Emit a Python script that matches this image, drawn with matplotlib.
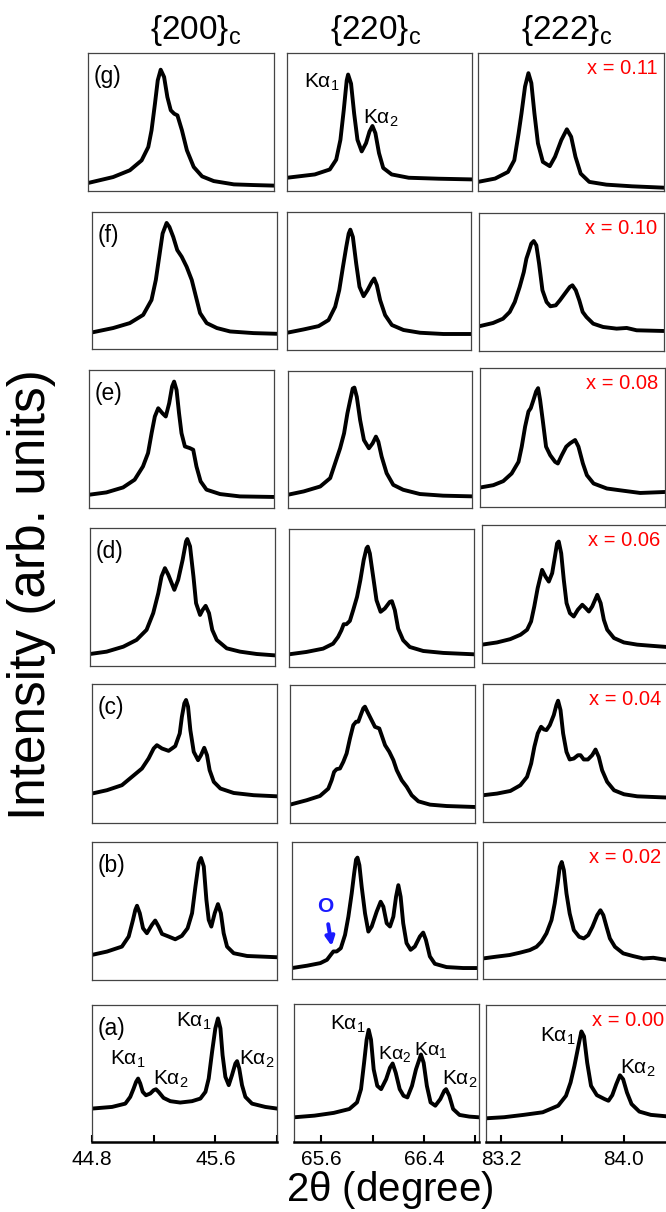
import matplotlib
matplotlib.use('Agg')
import matplotlib.pyplot as plt

plt.rcParams['font.family'] = ['Liberation Sans', 'DejaVu Sans']
plt.rcParams['mathtext.fontset'] = 'custom'
plt.rcParams['mathtext.rm'] = 'Liberation Sans'
plt.rcParams['mathtext.it'] = 'Liberation Sans:italic'
plt.rcParams['mathtext.default'] = 'regular'

W, H = 666, 1212

# 2theta window of each column (degree)
col_range = [(44.8, 46.0), (65.386, 66.83), (83.10, 84.31)]
col_titles = [r'$\{200\}_c$', r'$\{220\}_c$', r'$\{222\}_c$']
row_tags = ['(g)', '(f)', '(e)', '(d)', '(c)', '(b)', '(a)']
x_labels = ['x = 0.11', 'x = 0.10', 'x = 0.08', 'x = 0.06', 'x = 0.04', 'x = 0.02', 'x = 0.00']

# ---- {200} column ----
g200_tt = [44.8, 44.962, 45.07, 45.146, 45.189, 45.21, 45.232, 45.25, 45.269, 45.291, 45.312, 45.334,
           45.356, 45.377, 45.406, 45.438, 45.482, 45.536, 45.611, 45.741, 45.87, 46.0]
g200_I = [0.058, 0.101, 0.150, 0.222, 0.319, 0.440, 0.633, 0.802, 0.879, 0.826, 0.681, 0.585,
          0.560, 0.548, 0.440, 0.295, 0.174, 0.106, 0.072, 0.048, 0.043, 0.039]

f200_tt = [44.8, 44.937, 45.045, 45.132, 45.186, 45.214, 45.236, 45.258, 45.284, 45.302, 45.327, 45.353,
           45.382, 45.414, 45.447, 45.474, 45.501, 45.544, 45.61, 45.696, 45.848, 46.0]
f200_I = [0.121, 0.153, 0.189, 0.249, 0.358, 0.504, 0.673, 0.843, 0.920, 0.891, 0.818, 0.722,
          0.673, 0.600, 0.504, 0.383, 0.262, 0.189, 0.153, 0.128, 0.116, 0.111]

e200_tt = [44.8, 44.913, 45.021, 45.096, 45.15, 45.183, 45.206, 45.227, 45.249, 45.276, 45.298, 45.32,
           45.339, 45.352, 45.368, 45.384, 45.4, 45.422, 45.454, 45.476, 45.497, 45.524, 45.562, 45.65,
           45.779, 46.0]
e200_I = [0.096, 0.113, 0.149, 0.205, 0.301, 0.398, 0.542, 0.663, 0.723, 0.687, 0.663, 0.759,
          0.880, 0.916, 0.855, 0.687, 0.542, 0.446, 0.434, 0.422, 0.301, 0.193, 0.133, 0.101,
          0.084, 0.080]

d200_tt = [44.8, 44.908, 45.016, 45.102, 45.167, 45.21, 45.243, 45.264, 45.286, 45.308, 45.347, 45.372,
           45.401, 45.423, 45.431, 45.449, 45.471, 45.488, 45.514, 45.531, 45.55, 45.572, 45.593, 45.622,
           45.687, 45.773, 45.881, 46.0]
d200_I = [0.087, 0.104, 0.140, 0.189, 0.262, 0.383, 0.528, 0.649, 0.709, 0.661, 0.552, 0.625,
          0.770, 0.903, 0.920, 0.867, 0.649, 0.455, 0.370, 0.407, 0.436, 0.383, 0.262, 0.189,
          0.128, 0.104, 0.087, 0.077]

c200_tt = [44.8, 44.897, 44.994, 45.059, 45.124, 45.167, 45.2, 45.221, 45.254, 45.297, 45.34, 45.369,
           45.383, 45.399, 45.41, 45.423, 45.438, 45.46, 45.488, 45.507, 45.528, 45.546, 45.563, 45.59,
           45.633, 45.719, 45.849, 46.0]
c200_I = [0.212, 0.236, 0.272, 0.332, 0.392, 0.464, 0.536, 0.560, 0.536, 0.519, 0.553, 0.644,
          0.764, 0.861, 0.885, 0.837, 0.668, 0.512, 0.452, 0.488, 0.541, 0.488, 0.380, 0.296,
          0.248, 0.216, 0.200, 0.192]

b200_tt = [44.8, 44.897, 44.994, 45.038, 45.066, 45.081, 45.092, 45.11, 45.131, 45.156, 45.189, 45.21,
           45.232, 45.254, 45.297, 45.34, 45.383, 45.42, 45.449, 45.471, 45.492, 45.507, 45.525, 45.542,
           45.557, 45.574, 45.596, 45.617, 45.636, 45.654, 45.676, 45.719, 45.806, 46.0]
b200_I = [0.182, 0.206, 0.242, 0.315, 0.436, 0.508, 0.538, 0.484, 0.375, 0.339, 0.400, 0.431,
          0.387, 0.334, 0.315, 0.295, 0.320, 0.375, 0.484, 0.678, 0.847, 0.884, 0.823, 0.581,
          0.436, 0.387, 0.484, 0.550, 0.484, 0.339, 0.242, 0.194, 0.174, 0.165]

a200_tt = [44.8, 44.93, 45.016, 45.048, 45.07, 45.086, 45.099, 45.113, 45.129, 45.15, 45.178, 45.2,
           45.215, 45.232, 45.264, 45.308, 45.372, 45.449, 45.503, 45.536, 45.557, 45.579, 45.6, 45.617,
           45.633, 45.647, 45.665, 45.687, 45.708, 45.73, 45.741, 45.755, 45.773, 45.795, 45.838,
           45.924, 46.0]
a200_I = [0.244, 0.256, 0.280, 0.329, 0.390, 0.439, 0.463, 0.427, 0.366, 0.341, 0.354, 0.378,
          0.385, 0.366, 0.322, 0.298, 0.288, 0.298, 0.317, 0.366, 0.463, 0.659, 0.829, 0.902,
          0.829, 0.634, 0.476, 0.415, 0.488, 0.573, 0.590, 0.537, 0.415, 0.329, 0.280,
          0.256, 0.244]

# ---- {220} column ----
g220_tt = [65.386, 65.603, 65.72, 65.77, 65.803, 65.829, 65.852, 65.863, 65.886, 65.91, 65.936, 65.969,
           66.003, 66.03, 66.053, 66.076, 66.104, 66.137, 66.203, 66.336, 66.57, 66.83]
g220_I = [0.096, 0.120, 0.156, 0.227, 0.371, 0.586, 0.801, 0.844, 0.778, 0.562, 0.371, 0.287,
          0.347, 0.431, 0.471, 0.419, 0.275, 0.167, 0.120, 0.096, 0.089, 0.084]

f220_tt = [65.386, 65.516, 65.634, 65.712, 65.764, 65.796, 65.825, 65.851, 65.87, 65.883, 65.903, 65.929,
           65.955, 65.987, 66.018, 66.052, 66.07, 66.091, 66.117, 66.156, 66.209, 66.3, 66.43, 66.613,
           66.83]
f220_I = [0.125, 0.149, 0.173, 0.217, 0.313, 0.434, 0.602, 0.747, 0.843, 0.872, 0.819, 0.627,
          0.458, 0.390, 0.434, 0.494, 0.518, 0.470, 0.361, 0.253, 0.181, 0.145, 0.125, 0.116,
          0.116]

e220_tt = [65.386, 65.509, 65.639, 65.717, 65.756, 65.795, 65.826, 65.852, 65.874, 65.894, 65.907, 65.926,
           65.952, 65.982, 66.021, 66.05, 66.076, 66.095, 66.121, 66.16, 66.212, 66.29, 66.421, 66.603,
           66.83]
e220_I = [0.097, 0.121, 0.157, 0.218, 0.327, 0.436, 0.545, 0.690, 0.787, 0.872, 0.879, 0.811,
          0.642, 0.496, 0.436, 0.472, 0.521, 0.484, 0.375, 0.254, 0.169, 0.133, 0.102, 0.090,
          0.085]

d220_tt = [65.386, 65.522, 65.652, 65.73, 65.769, 65.795, 65.813, 65.834, 65.861, 65.887, 65.917, 65.943,
           65.969, 65.991, 66.001, 66.017, 66.043, 66.069, 66.101, 66.134, 66.173, 66.189, 66.212, 66.238,
           66.277, 66.329, 66.434, 66.59, 66.83]
d220_I = [0.092, 0.109, 0.133, 0.169, 0.218, 0.266, 0.310, 0.310, 0.334, 0.412, 0.508, 0.630,
          0.775, 0.860, 0.872, 0.823, 0.654, 0.484, 0.400, 0.424, 0.472, 0.477, 0.412, 0.278,
          0.194, 0.145, 0.116, 0.102, 0.092]

c220_tt = [65.386, 65.516, 65.62, 65.685, 65.711, 65.73, 65.75, 65.776, 65.802, 65.828, 65.854, 65.88,
           65.902, 65.919, 65.938, 65.958, 65.971, 65.99, 66.016, 66.049, 66.083, 66.101, 66.128, 66.161,
           66.193, 66.219, 66.258, 66.297, 66.336, 66.388, 66.479, 66.609, 66.83]
c220_I = [0.133, 0.165, 0.196, 0.249, 0.310, 0.370, 0.390, 0.395, 0.443, 0.504, 0.613, 0.709,
          0.734, 0.734, 0.782, 0.831, 0.843, 0.806, 0.758, 0.697, 0.685, 0.637, 0.564, 0.516,
          0.455, 0.383, 0.310, 0.262, 0.201, 0.157, 0.133, 0.123, 0.116]

b220_tt = [65.386, 65.503, 65.607, 65.659, 65.689, 65.709, 65.735, 65.767, 65.8, 65.826, 65.852, 65.871,
           65.886, 65.897, 65.912, 65.93, 65.956, 65.982, 66.008, 66.047, 66.078, 66.099, 66.125, 66.151,
           66.177, 66.198, 66.216, 66.234, 66.254, 66.28, 66.312, 66.345, 66.384, 66.41, 66.431, 66.462,
           66.501, 66.592, 66.722, 66.83]
b220_I = [0.080, 0.097, 0.116, 0.140, 0.177, 0.201, 0.201, 0.225, 0.322, 0.455, 0.625, 0.770,
          0.872, 0.886, 0.831, 0.673, 0.479, 0.346, 0.383, 0.492, 0.564, 0.528, 0.407, 0.383,
          0.455, 0.600, 0.685, 0.600, 0.407, 0.262, 0.213, 0.237, 0.310, 0.339, 0.286, 0.165,
          0.111, 0.087, 0.080, 0.080]

a220_tt = [65.386, 65.546, 65.696, 65.818, 65.878, 65.909, 65.933, 65.953, 65.969, 65.987, 66.008, 66.036,
           66.066, 66.105, 66.135, 66.156, 66.18, 66.211, 66.241, 66.271, 66.307, 66.338, 66.377, 66.398,
           66.423, 66.452, 66.489, 66.528, 66.559, 66.573, 66.598, 66.628, 66.678, 66.755, 66.83]
a220_I = [0.179, 0.191, 0.211, 0.239, 0.287, 0.383, 0.574, 0.742, 0.813, 0.742, 0.526, 0.407,
          0.383, 0.455, 0.538, 0.569, 0.502, 0.383, 0.335, 0.323, 0.407, 0.526, 0.634, 0.574,
          0.407, 0.287, 0.263, 0.311, 0.371, 0.383, 0.335, 0.239, 0.196, 0.184, 0.179]

# ---- {222} column ----
g222_tt = [83.10, 83.211, 83.295, 83.336, 83.364, 83.383, 83.406, 83.428, 83.447, 83.467, 83.49, 83.522,
           83.567, 83.601, 83.642, 83.678, 83.706, 83.734, 83.768, 83.824, 83.935, 84.102, 84.31]
g222_I = [0.066, 0.090, 0.138, 0.223, 0.417, 0.563, 0.757, 0.854, 0.782, 0.563, 0.345, 0.211,
          0.180, 0.248, 0.369, 0.447, 0.393, 0.248, 0.126, 0.066, 0.046, 0.034, 0.024]

f222_tt = [83.10, 83.192, 83.257, 83.301, 83.334, 83.366, 83.393, 83.41, 83.428, 83.442, 83.458, 83.475,
           83.493, 83.515, 83.542, 83.567, 83.602, 83.629, 83.661, 83.694, 83.711, 83.733, 83.756, 83.778,
           83.803, 83.847, 83.912, 84.0, 84.066, 84.131, 84.31]
f222_I = [0.179, 0.203, 0.234, 0.283, 0.355, 0.464, 0.572, 0.669, 0.729, 0.778, 0.797, 0.766,
          0.633, 0.440, 0.355, 0.324, 0.331, 0.367, 0.415, 0.464, 0.476, 0.440, 0.367, 0.283,
          0.246, 0.198, 0.174, 0.162, 0.167, 0.150, 0.145]

e222_tt = [83.10, 83.187, 83.252, 83.307, 83.352, 83.373, 83.395, 83.417, 83.432, 83.45, 83.467, 83.48,
           83.493, 83.51, 83.532, 83.559, 83.591, 83.609, 83.635, 83.664, 83.689, 83.722, 83.744, 83.773,
           83.799, 83.843, 83.93, 84.017, 84.148, 84.31]
e222_I = [0.140, 0.157, 0.186, 0.241, 0.325, 0.434, 0.578, 0.687, 0.711, 0.771, 0.831, 0.855,
          0.771, 0.627, 0.434, 0.373, 0.325, 0.313, 0.373, 0.434, 0.458, 0.482, 0.434, 0.313,
          0.229, 0.169, 0.133, 0.120, 0.101, 0.108]

d222_tt = [83.10, 83.198, 83.285, 83.352, 83.395, 83.421, 83.442, 83.464, 83.493, 83.515, 83.537, 83.559,
           83.577, 83.591, 83.602, 83.618, 83.635, 83.653, 83.675, 83.7, 83.727, 83.756, 83.778, 83.799,
           83.821, 83.854, 83.876, 83.897, 83.919, 83.963, 84.028, 84.115, 84.204, 84.31]
d222_I = [0.133, 0.149, 0.173, 0.205, 0.241, 0.301, 0.410, 0.542, 0.675, 0.627, 0.590, 0.651,
          0.771, 0.867, 0.880, 0.795, 0.602, 0.434, 0.361, 0.337, 0.386, 0.422, 0.398, 0.373,
          0.410, 0.494, 0.434, 0.313, 0.241, 0.181, 0.149, 0.133, 0.125, 0.116]

c222_tt = [83.10, 83.192, 83.279, 83.344, 83.388, 83.415, 83.436, 83.458, 83.48, 83.498, 83.515, 83.537,
           83.563, 83.58, 83.591, 83.607, 83.624, 83.646, 83.667, 83.694, 83.721, 83.738, 83.759, 83.786,
           83.814, 83.836, 83.857, 83.879, 83.912, 83.957, 84.022, 84.109, 84.196, 84.31]
c222_I = [0.194, 0.206, 0.225, 0.266, 0.327, 0.424, 0.545, 0.642, 0.690, 0.671, 0.666, 0.702,
          0.775, 0.847, 0.879, 0.811, 0.642, 0.508, 0.453, 0.460, 0.484, 0.484, 0.453, 0.453,
          0.484, 0.525, 0.472, 0.375, 0.291, 0.230, 0.201, 0.186, 0.182, 0.177]

b222_tt = [83.10, 83.187, 83.274, 83.341, 83.406, 83.45, 83.482, 83.515, 83.548, 83.569, 83.588, 83.602,
           83.615, 83.629, 83.646, 83.667, 83.694, 83.729, 83.759, 83.788, 83.816, 83.847, 83.868, 83.887,
           83.908, 83.93, 83.963, 84.017, 84.083, 84.148, 84.214, 84.31]
b222_I = [0.150, 0.163, 0.175, 0.192, 0.211, 0.235, 0.272, 0.333, 0.430, 0.551, 0.697, 0.818,
          0.854, 0.794, 0.624, 0.478, 0.357, 0.308, 0.296, 0.320, 0.381, 0.466, 0.502, 0.466,
          0.381, 0.296, 0.235, 0.187, 0.167, 0.150, 0.155, 0.138]

a222_tt = [83.10, 83.219, 83.346, 83.471, 83.572, 83.623, 83.653, 83.678, 83.704, 83.724, 83.741, 83.762,
           83.787, 83.825, 83.876, 83.901, 83.926, 83.952, 83.976, 83.997, 84.022, 84.052, 84.103, 84.178,
           84.275, 84.31]
a222_I = [0.173, 0.181, 0.198, 0.217, 0.265, 0.337, 0.434, 0.554, 0.699, 0.807, 0.771, 0.578,
          0.410, 0.342, 0.313, 0.301, 0.342, 0.422, 0.487, 0.458, 0.361, 0.277, 0.222, 0.198,
          0.188, 0.186]

curves = [
    [(g200_tt, g200_I), (g220_tt, g220_I), (g222_tt, g222_I)],
    [(f200_tt, f200_I), (f220_tt, f220_I), (f222_tt, f222_I)],
    [(e200_tt, e200_I), (e220_tt, e220_I), (e222_tt, e222_I)],
    [(d200_tt, d200_I), (d220_tt, d220_I), (d222_tt, d222_I)],
    [(c200_tt, c200_I), (c220_tt, c220_I), (c222_tt, c222_I)],
    [(b200_tt, b200_I), (b220_tt, b220_I), (b222_tt, b222_I)],
    [(a200_tt, a200_I), (a220_tt, a220_I), (a222_tt, a222_I)],
]

# panel boxes in pixels: left, right, top, bottom (panels were pasted by hand)
boxes = [
    [(88, 274, 53, 191), (287, 472, 53, 191), (478, 664, 53, 191)],
    [(92, 277, 212, 349), (287, 471, 212, 350), (479, 664, 213, 351)],
    [(89, 274, 370, 508), (288, 472, 371, 508), (480, 665, 368, 507)],
    [(90, 275, 528, 666), (289, 474, 529, 667), (482, 667, 525, 663)],
    [(92, 277, 684, 823), (290, 475, 685, 823), (483, 668, 684, 822)],
    [(92, 277, 842, 980), (292, 477, 842, 979), (483, 668, 842, 979)],
    [(92, 277, 1005, 1142), (294, 479, 1004, 1142), (486, 671, 1005, 1142)],
]

bottom_ticks = [[44.8, 45.2, 45.6, 46.0], [65.6, 66.0, 66.4, 66.8], [83.2, 83.6, 84.0]]
bottom_labels = [['44.8', '', '45.6', ''], ['65.6', '', '66.4', ''], ['83.2', '', '84.0']]

fig = plt.figure(figsize=(W / 100, H / 100), dpi=100)

axes = []
for r in range(7):
    row = []
    for c in range(3):
        l, rt, t, b = boxes[r][c]
        ax = fig.add_axes([l / W, 1 - b / H, (rt - l) / W, (b - t) / H])
        tt, I = curves[r][c]
        ax.plot(tt, I, color='black', lw=2.8, solid_joinstyle='round')
        ax.set_xlim(*col_range[c])
        ax.set_ylim(0, 1)
        ax.set_yticks([])
        for s in ax.spines.values():
            s.set_color('#444444')
            s.set_linewidth(0.9)
        if r == 6:
            ax.set_xticks(bottom_ticks[c], bottom_labels[c])
            ax.tick_params(axis='x', direction='in', length=5, width=1.5,
                           labelsize=15, pad=6, color='black')
            ax.spines['bottom'].set_color('black')
            ax.spines['bottom'].set_linewidth(1.8)
        else:
            ax.set_xticks([])
        row.append(ax)
    axes.append(row)

for r in range(7):
    axes[r][0].text(0.03, 0.83, row_tags[r], transform=axes[r][0].transAxes,
                    fontsize=16.5, ha='left', va='center')
    axes[r][2].text(0.965, 0.89, x_labels[r], transform=axes[r][2].transAxes,
                    fontsize=14.5, color='red', ha='right', va='center')

# K-alpha labels
ka1 = r'K$\alpha_1$'
ka2 = r'K$\alpha_2$'
ax = axes[0][1]
ax.text(65.66, 0.79, ka1, fontsize=15, ha='center', va='center')
ax.text(66.12, 0.53, ka2, fontsize=15, ha='center', va='center')
ax = axes[6][0]
ax.text(45.03, 0.60, ka1, fontsize=15, ha='center', va='center')
ax.text(45.31, 0.46, ka2, fontsize=15, ha='center', va='center')
ax.text(45.46, 0.88, ka1, fontsize=15, ha='center', va='center')
ax.text(45.87, 0.60, ka2, fontsize=15, ha='center', va='center')
ax = axes[6][1]
ax.text(65.805, 0.85, ka1, fontsize=15, ha='center', va='center')
ax.text(66.17, 0.64, ka2, fontsize=14, ha='center', va='center')
ax.text(66.455, 0.665, ka1, fontsize=14, ha='center', va='center')
ax.text(66.68, 0.455, ka2, fontsize=15, ha='center', va='center')
ax = axes[6][2]
ax.text(83.572, 0.77, ka1, fontsize=15, ha='center', va='center')
ax.text(84.09, 0.54, ka2, fontsize=15, ha='center', va='center')

# orthorhombic shoulder marker in (b) {220}
axes[5][1].annotate('O', xy=(65.696, 0.24), xytext=(65.646, 0.53),
                    fontsize=15, fontweight='bold', color='#1a1aff',
                    ha='center', va='center',
                    arrowprops=dict(arrowstyle='-|>', color='#1a1aff', lw=2.8,
                                    shrinkA=4, shrinkB=0, mutation_scale=13))

# column titles
for cx, title in zip([196, 376, 567], col_titles):
    fig.text(cx / W, 1 - 30 / H, title, fontsize=24, ha='center', va='center')

fig.text(32 / W, 1 - 595 / H, 'Intensity (arb. units)', fontsize=37,
         rotation=90, ha='center', va='center')
fig.text(390 / W, 1 - 1190 / H, r'2$\theta$ (degree)', fontsize=29,
         ha='center', va='center')

fig.savefig('out.png', dpi=100)
